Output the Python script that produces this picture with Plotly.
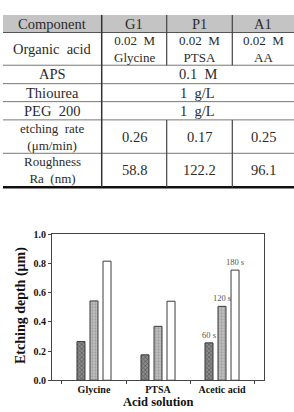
import plotly.graph_objects as go

# ---------------- data ----------------
table_header = ["Component", "G1", "P1", "A1"]
organic_acid = ["0.02  M<br>Glycine", "0.02  M<br>PTSA", "0.02  M<br>AA"]
aps_conc = "0.1  M"
thiourea_conc = "1  g/L"
peg_conc = "1  g/L"
etching_rate = [0.26, 0.17, 0.25]
roughness_ra = [58.8, 122.2, 96.1]
row_labels = ["Organic  acid", "APS", "Thiourea", "PEG  200",
              "etching  rate<br>(μm/min)", "Roughness<br>Ra  (nm)"]

acids = ["Glycine", "PTSA", "Acetic acid"]
depth_60s = [0.265, 0.174, 0.256]
depth_120s = [0.543, 0.369, 0.506]
depth_180s = [0.815, 0.541, 0.754]
series_names = ["60 s", "120 s", "180 s"]

# ---------------- layout geometry (pixels) ----------------
W, H = 294, 412
col_edges = [3, 101.7, 166.7, 232.3, 294]
row_edges = [9.3, 27.3, 61, 80, 98.5, 117.3, 151.7, 186.7]

def px(x):
    return x / W

def py(y):
    return 1 - y / H

serif = "Liberation Serif"
txt_col = "#2b2b2b"

fig = go.Figure()

# bars
styles = [
    dict(color="#8a8a8a", pattern=dict(shape="x", fgcolor="#333333", bgcolor="#8a8a8a", size=3, solidity=0.45)),
    dict(color="#b8b8b8", pattern=dict(shape=".", fgcolor="#7a7a7a", bgcolor="#c2c2c2", size=3, solidity=0.45)),
    dict(color="#ffffff"),
]
for vals, name, st in zip([depth_60s, depth_120s, depth_180s], series_names, styles):
    labels = ["" for _ in acids[:-1]] + [name]
    fig.add_trace(go.Bar(
        x=acids, y=vals, name=name,
        marker=dict(line=dict(color="#3a3a3a", width=1), **st),
        text=labels, textposition="outside", constraintext="none", textangle=0,
        textfont=dict(family=serif, size=8.5, color="#555555"),
        cliponaxis=False,
        showlegend=False,
    ))

shapes = []
annotations = []

# table header background
shapes.append(dict(type="rect", xref="paper", yref="paper",
                   x0=px(col_edges[0]), x1=px(col_edges[-1]),
                   y0=py(row_edges[1]), y1=py(row_edges[0]),
                   fillcolor="#c4c4c4", line=dict(width=0), layer="below"))

# horizontal lines
for i, y in enumerate(row_edges[1:-1]):
    shapes.append(dict(type="line", xref="paper", yref="paper",
                       x0=px(col_edges[0]), x1=px(col_edges[-1]),
                       y0=py(y), y1=py(y),
                       line=dict(color="#555555" if i == 0 else "#777777", width=1)))
shapes.append(dict(type="line", xref="paper", yref="paper",
                   x0=px(col_edges[0]), x1=px(col_edges[-1]),
                   y0=py(row_edges[-1]), y1=py(row_edges[-1]),
                   line=dict(color="#111111", width=2.5)))

# main vertical divider
shapes.append(dict(type="line", xref="paper", yref="paper",
                   x0=px(col_edges[1]), x1=px(col_edges[1]),
                   y0=py(row_edges[0]), y1=py(row_edges[-1]),
                   line=dict(color="#333333", width=1.5)))
# inner dividers (not in merged rows)
for xe in col_edges[2:4]:
    for (ya, yb) in [(row_edges[0], row_edges[2]), (row_edges[5], row_edges[7])]:
        shapes.append(dict(type="line", xref="paper", yref="paper",
                           x0=px(xe), x1=px(xe), y0=py(ya), y1=py(yb),
                           line=dict(color="#444444", width=1.2)))

col_centers = [(col_edges[i] + col_edges[i + 1]) / 2 for i in range(4)]
col_centers[3] = 263.3
row_centers = [(row_edges[i] + row_edges[i + 1]) / 2 for i in range(7)]
merged_center = (col_edges[1] + col_edges[-1]) / 2

def cell(text, xc, yc):
    size = 13 if "<br>" in text else 14.5
    annotations.append(dict(text=text, x=px(xc), y=py(yc), xref="paper", yref="paper",
                            showarrow=False, xanchor="center", yanchor="middle", borderpad=0,
                            font=dict(family=serif, size=size, color=txt_col)))

for j, t in enumerate(table_header):
    cell(t, col_centers[j], row_centers[0])
for i, t in enumerate(row_labels):
    cell(t, col_centers[0], row_centers[i + 1])
for j, t in enumerate(organic_acid):
    cell(t, col_centers[j + 1], row_centers[1])
cell(aps_conc, merged_center, row_centers[2])
cell(thiourea_conc, merged_center, row_centers[3])
cell(peg_conc, merged_center, row_centers[4])
for j, v in enumerate(etching_rate):
    cell(f"{v:.2f}", col_centers[j + 1], row_centers[5])
for j, v in enumerate(roughness_ra):
    cell(f"{v:.1f}", col_centers[j + 1], row_centers[6])

# axis titles
annotations.append(dict(text="<b>Etching depth (μm)</b>", x=px(21), y=py(309),
                        xref="paper", yref="paper", showarrow=False, textangle=-90,
                        xanchor="center", yanchor="middle",
                        font=dict(family=serif, size=14, color="#111111")))
annotations.append(dict(text="<b>Acid solution</b>", x=px(158), y=0.0,
                        xref="paper", yref="paper", showarrow=False,
                        xanchor="center", yanchor="bottom", borderpad=0, yshift=-4,
                        font=dict(family=serif, size=12.5, color="#111111")))

fig.update_layout(
    width=W, height=H, margin=dict(l=0, r=0, t=0, b=0),
    paper_bgcolor="white", plot_bgcolor="white",
    barmode="group", bargap=0.39, bargroupgap=0.385,
    shapes=shapes, annotations=annotations,
    xaxis=dict(domain=[px(52), px(264)], type="category", range=[-0.656, 2.656],
               tickson="boundaries", ticks="outside", ticklen=3, tickcolor="#444444",
               showline=True, mirror=True, linecolor="#444444", linewidth=1,
               showgrid=False, zeroline=False,
               tickfont=dict(family=serif, size=10, color="#111111", weight="bold")),
    yaxis=dict(domain=[py(385.5), py(235)], range=[0, 1.0], dtick=0.2, tickformat=".1f",
               ticks="outside", ticklen=3, tickcolor="#444444",
               showline=True, mirror=True, linecolor="#444444", linewidth=1,
               showgrid=False, zeroline=False,
               tickfont=dict(family=serif, size=10, color="#111111", weight="bold")),
)

fig.write_html("out.html")
